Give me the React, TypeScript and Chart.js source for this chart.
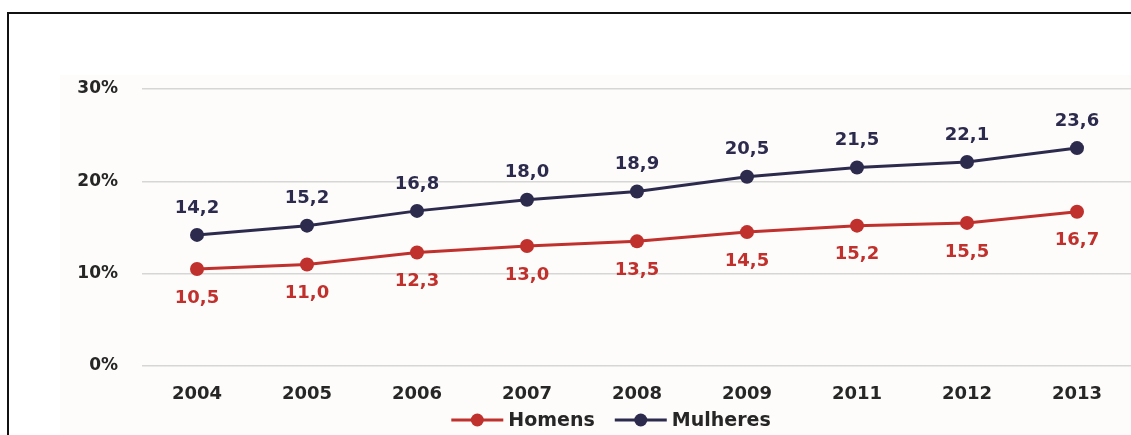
import { useEffect, useRef } from "react";
import { Chart, registerables } from "chart.js";

Chart.register(...registerables);

// Anos (eixo X)
const years = ["2004", "2005", "2006", "2007", "2008", "2009", "2011", "2012", "2013"];
// Percentual por sexo
const homens = [10.5, 11.0, 12.3, 13.0, 13.5, 14.5, 15.2, 15.5, 16.7];
const mulheres = [14.2, 15.2, 16.8, 18.0, 18.9, 20.5, 21.5, 22.1, 23.6];
// Marcas do eixo Y
const yTicks = [0, 10, 20, 30];

const RED = "#c0302c";
const NAVY = "#2c2b4d";
const TEXT = "#262626";
const FONT = "'DejaVu Sans', sans-serif";

const fmt = (v: number) => v.toFixed(1).replace(".", ",");

const backgroundPlugin = {
  id: "plotBackground",
  beforeDraw(chart: any) {
    const ctx = chart.ctx;
    ctx.save();
    ctx.fillStyle = "#fdfcfa";
    ctx.fillRect(60, 75, chart.width - 60, chart.height - 75);
    ctx.restore();
  },
};

const valueLabelsPlugin = {
  id: "valueLabels",
  afterDatasetsDraw(chart: any) {
    const ctx = chart.ctx;
    ctx.save();
    ctx.font = `bold 18px ${FONT}`;
    ctx.textAlign = "center";
    ctx.textBaseline = "middle";
    chart.data.datasets.forEach((ds: any, di: number) => {
      const meta = chart.getDatasetMeta(di);
      ctx.fillStyle = ds.borderColor;
      meta.data.forEach((pt: any, i: number) => {
        ctx.fillText(fmt(ds.data[i]), pt.x, pt.y + ds.labelOffset);
      });
    });
    ctx.restore();
  },
};

const legendPlugin = {
  id: "lineLegend",
  afterDraw(chart: any) {
    const ctx = chart.ctx;
    ctx.save();
    ctx.font = `bold 19px ${FONT}`;
    ctx.textBaseline = "middle";
    const y = 420;
    const lineLen = 52;
    const gap = 5;
    const spacing = 20;
    const items = chart.data.datasets.map((ds: any) => ({
      label: ds.label,
      color: ds.borderColor,
      w: lineLen + gap + ctx.measureText(ds.label).width,
    }));
    const total = items.reduce((s: number, it: any) => s + it.w, 0) + spacing * (items.length - 1);
    let x = 611 - total / 2;
    items.forEach((it: any) => {
      ctx.strokeStyle = it.color;
      ctx.lineWidth = 3;
      ctx.beginPath();
      ctx.moveTo(x, y);
      ctx.lineTo(x + lineLen, y);
      ctx.stroke();
      ctx.fillStyle = it.color;
      ctx.beginPath();
      ctx.arc(x + lineLen / 2, y, 6.5, 0, Math.PI * 2);
      ctx.fill();
      ctx.fillStyle = TEXT;
      ctx.textAlign = "left";
      ctx.fillText(it.label, x + lineLen + gap, y + 1);
      x += it.w + spacing;
    });
    ctx.restore();
  },
};

export default function App() {
  const canvasRef = useRef<HTMLCanvasElement | null>(null);

  useEffect(() => {
    if (!canvasRef.current) return;
    const chart = new Chart(canvasRef.current, {
      type: "line",
      data: {
        labels: years,
        datasets: [
          {
            label: "Homens",
            data: homens,
            borderColor: RED,
            backgroundColor: RED,
            borderWidth: 3,
            pointRadius: 7,
            pointHoverRadius: 7,
            pointBackgroundColor: RED,
            pointBorderWidth: 0,
            tension: 0,
            labelOffset: 29,
          } as any,
          {
            label: "Mulheres",
            data: mulheres,
            borderColor: NAVY,
            backgroundColor: NAVY,
            borderWidth: 3,
            pointRadius: 7,
            pointHoverRadius: 7,
            pointBackgroundColor: NAVY,
            pointBorderWidth: 0,
            tension: 0,
            labelOffset: -27,
          } as any,
        ],
      },
      options: {
        responsive: false,
        animation: false,
        layout: { padding: { top: 89, left: 0, right: 0, bottom: 0 } },
        plugins: {
          legend: { display: false },
          tooltip: { enabled: false },
        },
        scales: {
          x: {
            offset: true,
            grid: { display: false, drawTicks: false },
            border: { display: false },
            ticks: {
              color: TEXT,
              font: { family: FONT, size: 18, weight: "bold" },
              padding: 18,
              maxRotation: 0,
            },
            afterFit(scale: any) {
              scale.height = 69;
            },
          },
          y: {
            min: 0,
            max: 30,
            afterBuildTicks(scale: any) {
              scale.ticks = yTicks.map((v) => ({ value: v }));
            },
            grid: { color: "#d6d6d6", lineWidth: 1.5, drawTicks: false },
            border: { display: false },
            ticks: {
              color: TEXT,
              font: { family: FONT, size: 17, weight: "bold" },
              padding: 24,
              callback: (v: any) => `${v}%`,
            },
            afterFit(scale: any) {
              scale.width = 142;
            },
          },
        },
      },
      plugins: [backgroundPlugin, valueLabelsPlugin, legendPlugin],
    });
    return () => chart.destroy();
  }, []);

  return (
    <div
      style={{
        position: "fixed",
        left: 0,
        top: 0,
        width: 1131,
        height: 435,
        background: "#ffffff",
        overflow: "hidden",
      }}
    >
      <div
        style={{
          position: "absolute",
          left: 7,
          top: 12,
          width: 1200,
          height: 500,
          borderLeft: "2px solid #111",
          borderTop: "2px solid #111",
        }}
      />
      <canvas
        ref={canvasRef}
        width={1139}
        height={435}
        style={{ position: "absolute", left: 0, top: 0 }}
      />
    </div>
  );
}
